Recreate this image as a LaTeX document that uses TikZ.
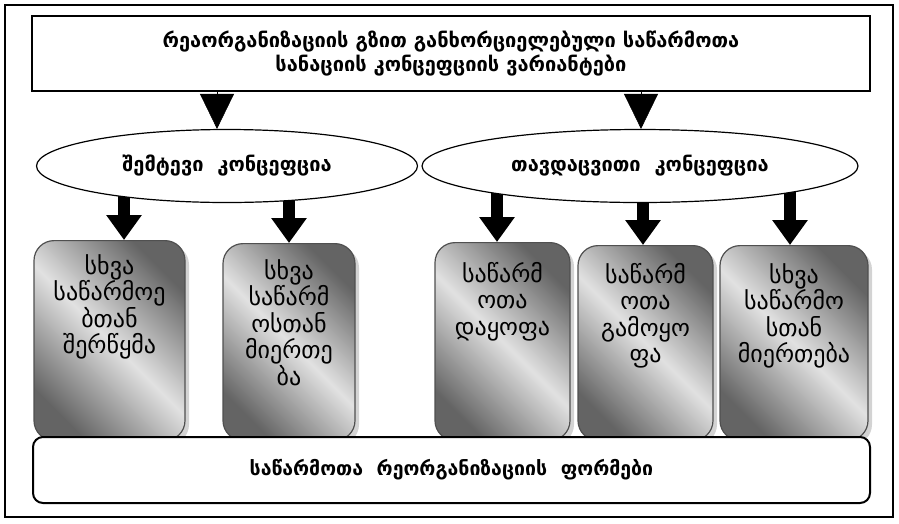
\documentclass[tikz,border=0pt]{standalone}
\usepackage{fontspec}
\setmainfont{DejaVu Sans}
\usetikzlibrary{arrows.meta,shapes.geometric,shadows}
\definecolor{gdark}{RGB}{100,100,100}
\definecolor{glight}{RGB}{225,225,225}
\definecolor{gborder}{RGB}{80,80,80}
\tikzset{
  headbox/.style={draw, line width=1.5pt, fill=white, minimum width=838pt, minimum height=75pt,
    align=center, font=\bfseries\fontsize{20}{23.5}\selectfont},
  concept/.style={draw, ellipse, line width=1.2pt, fill=white, minimum height=73pt, inner sep=0pt,
    font=\bfseries\fontsize{20}{24}\selectfont},
  graybox/.style={draw=gborder, line width=1.2pt, rounded corners=20pt, anchor=north,
    top color=gdark, bottom color=gdark, middle color=glight, shading angle=-45,
    drop shadow={shadow xshift=4pt, shadow yshift=-4pt, opacity=0.35}},
  boxtxt/.style={anchor=north, align=center, inner sep=0pt, font=\fontsize{24}{26.5}\selectfont},
  footbox/.style={draw, line width=2pt, rounded corners=10pt, fill=white, minimum width=837pt,
    minimum height=66pt, font=\bfseries\fontsize{19.5}{24}\selectfont},
  bigtri/.style={line width=0.5pt, -{Triangle[width=34pt,length=35pt]}},
  blockarrow/.style={line width=12pt, -{Triangle[width=34pt,length=25pt]}},
}
\begin{document}
\begin{tikzpicture}[x=1pt,y=-1pt]
\useasboundingbox (0,0) rectangle (899,523);
\draw[line width=1.5pt] (5,5) rectangle (893,517);

% header
\node[headbox] (top) at (451,53.5) {რეაორგანიზაციის გზით განხორციელებული საწარმოთა\\სანაციის კონცეფციის ვარიანტები};

% gray boxes
\node[graybox, minimum width=151pt, minimum height=200pt] (b1) at (109.5,240) {};
\node[graybox, minimum width=132pt, minimum height=197pt] (b2) at (289,243) {};
\node[graybox, minimum width=135pt, minimum height=198pt] (b3) at (502.5,242) {};
\node[graybox, minimum width=135pt, minimum height=195pt] (b4) at (645.5,245) {};
\node[graybox, minimum width=148pt, minimum height=195pt] (b5) at (794,245) {};

\node[boxtxt] (t1) at ([yshift=-14pt]b1.north) {სხვა\\საწარმოე\\ბთან\\შერწყმა};
\node[boxtxt] (t2) at ([yshift=-16pt]b2.north) {სხვა\\საწარმ\\ოსთან\\მიერთე\\ბა};
\node[boxtxt] (t3) at ([yshift=-20pt]b3.north) {საწარმ\\ოთა\\დაყოფა};
\node[boxtxt] (t4) at ([yshift=-18pt]b4.north) {საწარმ\\ოთა\\გამოყო\\ფა};
\node[boxtxt] (t5) at ([yshift=-18pt]b5.north) {სხვა\\საწარმო\\სთან\\მიერთება};

% concept ellipses positions (coordinates for arrow starts)
\coordinate (e1c) at (227,166);
\coordinate (e2c) at (640,166);

% block arrows (drawn before ellipses, which cover their starts)
\draw[blockarrow] ([xshift=14.5pt]b1.north |- e1c) -- ([xshift=14.5pt]b1.north);
\draw[blockarrow] (b2.north |- e1c) -- (b2.north);
\draw[blockarrow] ([xshift=-5.5pt]b3.north |- e2c) -- ([xshift=-5.5pt]b3.north);
\draw[blockarrow] ([xshift=-2.5pt]b4.north |- e2c) -- ([xshift=-2.5pt]b4.north);
\draw[blockarrow] ([xshift=-4pt]b5.north |- e2c) -- ([xshift=-4pt]b5.north);

\node[concept, minimum width=381pt] (e1) at (e1c) {შემტევი \ კონცეფცია};
\node[concept, minimum width=436pt] (e2) at (e2c) {თავდაცვითი \ კონცეფცია};

% triangles from header to concepts
\draw[bigtri] ([xshift=-10pt]top.south -| e1.north) -- ([xshift=-10pt]e1.north);
\draw[bigtri] ([xshift=1pt]top.south -| e2.north) -- ([xshift=1pt]e2.north);

% footer
\node[footbox] (foot) at (451.5,470) {საწარმოთა \ რეორგანიზაციის \ ფორმები};
\end{tikzpicture}
\end{document}
